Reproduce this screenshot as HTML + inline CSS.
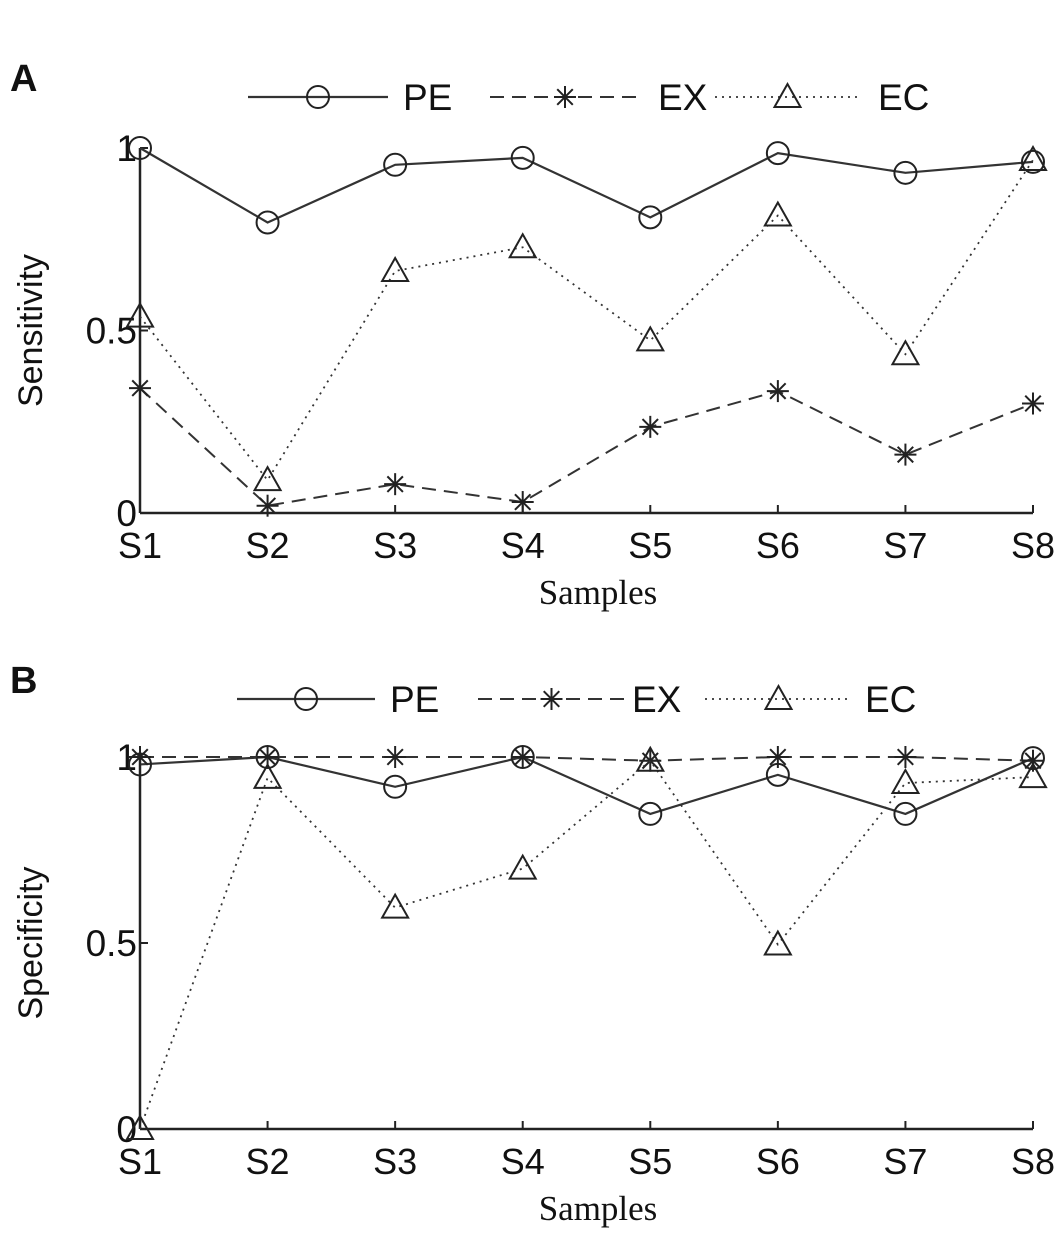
<!DOCTYPE html>
<html><head><meta charset="utf-8"><style>
body{margin:0;background:#fff}
svg text{font-family:"Liberation Sans",Arial,sans-serif;fill:#111}
</style></head><body>
<svg id="chart" width="1063" height="1240" viewBox="0 0 1063 1240" xmlns="http://www.w3.org/2000/svg"></svg>
<script>
const categories=["S1","S2","S3","S4","S5","S6","S7","S8"];
const sensPE=[1.0,0.796,0.954,0.973,0.81,0.986,0.932,0.962];
const sensEX=[0.342,0.02,0.079,0.03,0.236,0.334,0.16,0.30];
const sensEC=[0.538,0.09,0.663,0.728,0.473,0.815,0.435,0.967];
const specPE=[0.98,1.0,0.92,1.0,0.847,0.952,0.847,0.997];
const specEX=[1.0,1.0,1.0,1.0,0.99,1.0,1.0,0.99];
const specEC=[0.0,0.944,0.595,0.70,0.99,0.496,0.93,0.946];
const yTicks=[0,0.5,1];
const yTickLabels=["0","0.5","1"];

const NS="http://www.w3.org/2000/svg";
const svg=document.getElementById('chart');
function el(tag,attrs,parent,text){const e=document.createElementNS(NS,tag);for(const k in attrs)e.setAttribute(k,attrs[k]);if(text!==undefined)e.textContent=text;(parent||svg).appendChild(e);return e;}
const X0=140,X1=1033;
function xs(i){return X0+(X1-X0)*i/(categories.length-1);}
const styles={PE:{dash:"",w:2.2},EX:{dash:"14 8",w:2},EC:{dash:"2 5",w:1.8}};
function marker(g,type,x,y){
  if(type==="PE"){el('circle',{cx:x,cy:y,r:11,fill:"none",stroke:"#222","stroke-width":2},g);}
  else if(type==="EX"){for(let a=0;a<4;a++){const t=a*Math.PI/4;el('line',{x1:x-11*Math.cos(t),y1:y-11*Math.sin(t),x2:x+11*Math.cos(t),y2:y+11*Math.sin(t),stroke:"#222","stroke-width":2},g);}}
  else{el('polygon',{points:`${x},${y-13} ${x-13},${y+10} ${x+13},${y+10}`,fill:"none",stroke:"#222","stroke-width":2},g);}
}
function panel(name,label,yTop,yBot,ytitle,series,legY,legX){
  const g=el('g',{});
  
  
  const ys=v=>yBot-(yBot-yTop)*v;
  const pl=el('text',{x:10,y:legY-6,"font-size":38,"font-weight":"bold"},g,label);
  
  
  const ax=el('g',{},g);
  
  
  el('line',{x1:X0,y1:yTop,x2:X0,y2:yBot,stroke:"#222","stroke-width":2.5},ax);
  el('line',{x1:X0,y1:yBot,x2:X1,y2:yBot,stroke:"#222","stroke-width":2.5},ax);
  yTicks.forEach((t,i)=>{
    el('line',{x1:X0,y1:ys(t),x2:X0+8,y2:ys(t),stroke:"#222","stroke-width":2},ax);
    const tl=el('text',{x:X0-3,y:ys(t)+13,"font-size":37,"text-anchor":"end"},ax,yTickLabels[i]);
    
    
  });
  categories.forEach((c,i)=>{
    el('line',{x1:xs(i),y1:yBot,x2:xs(i),y2:yBot-8,stroke:"#222","stroke-width":2},ax);
    const tl=el('text',{x:xs(i),y:yBot+45,"font-size":36,"text-anchor":"middle"},ax,c);
    
    
  });
  const xt=el('text',{x:598,y:yBot+91,"font-size":35,"text-anchor":"middle",style:'font-family:"Liberation Serif",serif'},g,"Samples");
  
  
  const yt=el('text',{x:0,y:0,"font-size":34,"text-anchor":"middle",transform:`translate(42,${(yTop+yBot)/2}) rotate(-90)`},g,ytitle);
  
  
  Object.keys(series).forEach(k=>{
    const sg=el('g',{},g);
    
    
    const pts=series[k].map((v,i)=>xs(i)+","+ys(v)).join(" ");
    el('polyline',{points:pts,fill:"none",stroke:"#333","stroke-width":styles[k].w,"stroke-dasharray":styles[k].dash},sg);
    series[k].forEach((v,i)=>marker(sg,k,xs(i),ys(v)));
  });
  const lg=el('g',{},g);
  
  
  Object.keys(series).forEach((k,j)=>{
    const [a,b,tx]=legX[j];
    const e=el('g',{},lg);
    
    
    el('line',{x1:a,y1:legY,x2:b,y2:legY,stroke:"#333","stroke-width":styles[k].w,"stroke-dasharray":styles[k].dash},e);
    marker(e,k,(a+b)/2,legY);
    el('text',{x:tx,y:legY+13,"font-size":37},e,k);
  });
}
panel('panel-a-sensitivity','A',148,513,'Sensitivity',{PE:sensPE,EX:sensEX,EC:sensEC},97,[[248,388,403],[490,640,658],[715,860,878]]);
panel('panel-b-specificity','B',757,1129,'Specificity',{PE:specPE,EX:specEX,EC:specEC},699,[[237,375,390],[478,625,632],[705,852,865]]);
</script>
</body></html>
